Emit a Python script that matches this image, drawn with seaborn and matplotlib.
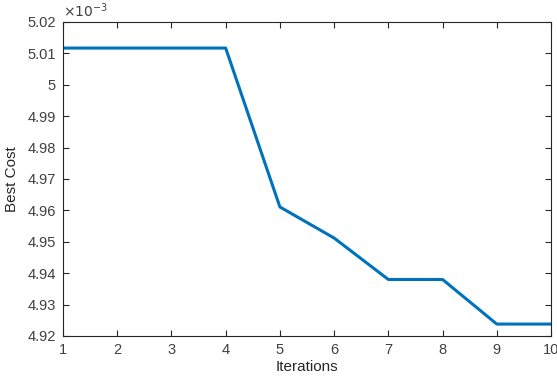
import numpy as np
import pandas as pd
import matplotlib
matplotlib.use("Agg")
import matplotlib.pyplot as plt
import seaborn as sns

iterations = [1, 2, 3, 4, 5, 6, 7, 8, 9, 10]
best_cost = [5.0117, 5.0117, 5.0117, 5.0117, 4.9611, 4.9512, 4.9380, 4.9380, 4.9238, 4.9238]
xticks = [1, 2, 3, 4, 5, 6, 7, 8, 9, 10]
yticks = [4.92, 4.93, 4.94, 4.95, 4.96, 4.97, 4.98, 4.99, 5.00, 5.01, 5.02]
ytick_labels = ["4.92", "4.93", "4.94", "4.95", "4.96", "4.97", "4.98", "4.99", "5", "5.01", "5.02"]

df = pd.DataFrame({"Iterations": iterations, "Best Cost": best_cost})

sns.set_style("white")
plt.rcParams['font.family'] = ['Liberation Sans', 'DejaVu Sans']

fig = plt.figure(figsize=(5.57, 3.76), dpi=100)
ax = fig.add_axes([63/557, 40/376, 488/557, 314/376])

sns.lineplot(data=df, x="Iterations", y="Best Cost", ax=ax, color="#0072BD", linewidth=2.2)

ax.set_xlim(1, 10)
ax.set_ylim(4.92, 5.02)
ax.set_xticks(xticks)
ax.set_yticks(yticks)
ax.set_yticklabels(ytick_labels)

gray = "#262626"
for s in ax.spines.values():
    s.set_visible(True)
    s.set_color(gray)
    s.set_linewidth(0.8)
ax.tick_params(direction="in", length=4, width=0.8, colors=gray, labelcolor="#404040",
               labelsize=10.5, top=True, right=True, bottom=True, left=True, pad=5)
ax.set_xlabel("Iterations", fontsize=11, color="#262626", labelpad=2)
ax.set_ylabel("Best Cost", fontsize=11, color="#262626", labelpad=6)
ax.text(0.0, 1.005, r"$\times10^{-3}$", transform=ax.transAxes, fontsize=10,
        color="#404040", ha="left", va="bottom", family="DejaVu Sans")

fig.savefig("out.png", dpi=100)
